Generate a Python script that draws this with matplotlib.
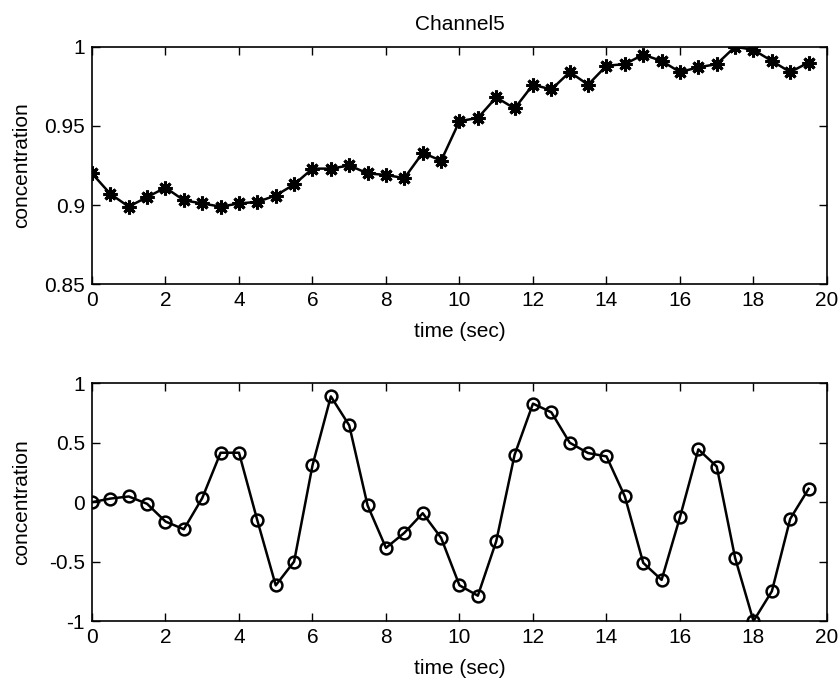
import numpy as np
import matplotlib
matplotlib.use("Agg")
import matplotlib.pyplot as plt

plt.rcParams['font.family'] = ['Liberation Sans', 'DejaVu Sans']

# sample times (sec)
t = np.arange(0, 20, 0.5)

# top panel: raw concentration
conc_raw = [0.920, 0.907, 0.899, 0.905, 0.911, 0.903, 0.901, 0.899, 0.901, 0.902,
            0.906, 0.913, 0.923, 0.923, 0.925, 0.920, 0.919, 0.917, 0.933, 0.928,
            0.953, 0.955, 0.968, 0.961, 0.976, 0.973, 0.984, 0.976, 0.988, 0.989,
            0.995, 0.991, 0.984, 0.987, 0.989, 1.000, 0.998, 0.991, 0.984, 0.990]

# bottom panel: normalised concentration
conc_norm = [0.00, 0.03, 0.048, -0.014, -0.163, -0.228, 0.034, 0.416, 0.416, -0.154,
             -0.70, -0.50, 0.309, 0.89, 0.646, -0.028, -0.385, -0.258, -0.093, -0.30,
             -0.70, -0.787, -0.329, 0.399, 0.829, 0.756, 0.50, 0.413, 0.385, 0.048,
             -0.511, -0.654, -0.126, 0.444, 0.30, -0.469, -1.0, -0.75, -0.14, 0.112]

fs = 15

fig = plt.figure(figsize=(8.4, 6.84), dpi=100)
ax1 = fig.add_axes([0.1095, 0.5845, 0.875, 0.3472])
ax2 = fig.add_axes([0.1095, 0.0921, 0.875, 0.3475])

# MATLAB-style '*' marker: asterisk with 8 spokes
ax1.plot(t, conc_raw, color="black", lw=1.8, marker=(8, 2, 0), markersize=10,
         markeredgewidth=2.2)
ax1.set_xlim(0, 20)
ax1.set_ylim(0.85, 1.0)
ax1.set_yticks([0.85, 0.9, 0.95, 1.0])
ax1.set_yticklabels(["0.85", "0.9", "0.95", "1"])
ax1.set_title("Channel5", fontsize=fs, pad=12)

ax2.plot(t, conc_norm, color="black", lw=1.8, marker="o", markersize=8.5,
         markerfacecolor="none", markeredgewidth=1.8)
ax2.set_xlim(0, 20)
ax2.set_ylim(-1, 1)
ax2.set_yticks([-1, -0.5, 0, 0.5, 1])
ax2.set_yticklabels(["-1", "-0.5", "0", "0.5", "1"])

for ax in (ax1, ax2):
    ax.set_xticks(np.arange(0, 21, 2))
    ax.set_xlabel("time (sec)", fontsize=fs)
    ax.set_ylabel("concentration", fontsize=fs)
    ax.xaxis.set_label_coords(0.5, -0.16)
    ax.yaxis.set_label_coords(-0.083, 0.5)
    ax.tick_params(direction="in", top=True, right=True, length=6, width=1,
                   labelsize=fs)
    ax.tick_params(axis="x", pad=5)
    ax.tick_params(axis="y", pad=5)
    for s in ax.spines.values():
        s.set_linewidth(1.2)

fig.savefig("out.png", dpi=100)
